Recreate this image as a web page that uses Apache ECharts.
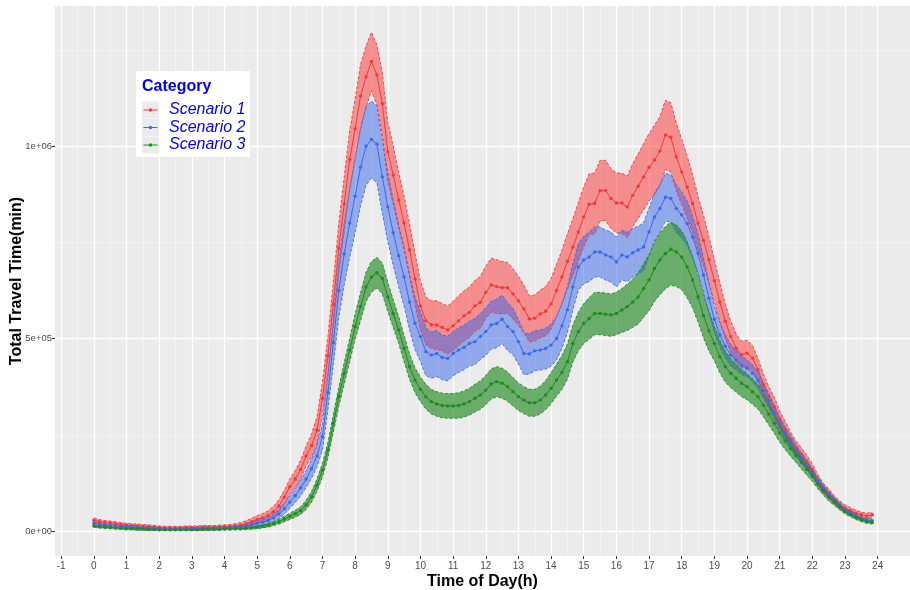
<!DOCTYPE html>
<html>
<head>
<meta charset="utf-8">
<title>Total Travel Time by Time of Day</title>
<script src="https://cdn.jsdelivr.net/npm/echarts@6/dist/echarts.min.js"></script>
<style>
  html, body { margin: 0; padding: 0; background: #ffffff; }
  #chart { width: 910px; height: 590px; }
</style>
</head>
<body>
<div id="chart"></div>
<script>
// Travel time sampled every 10 minutes (values in thousands of minutes).
const slotMinutes = 10;
const slotCount = 144;
const hours = [];
for (let i = 0; i < slotCount; i++) hours.push(i * slotMinutes / 60);

const xTickLabels = [-1,0,1,2,3,4,5,6,7,8,9,10,11,12,13,14,15,16,17,18,19,20,21,22,23,24];
const yTickValues = [0, 500, 1000];
const categories = ['Scenario 1', 'Scenario 2', 'Scenario 3'];

// Scenario 1
const s1Mean = [
  28,24,22,21,19,17, 15,14,13,12,11,10, 9,8,8,8,8,9, 9,9,10,10,10,11,
  11,12,13,15,19,24, 30,34,40,50,65,88, 115,135,160,195,222,262, 345,455,590,735,850,965,
  1045,1130,1180,1220,1185,1110, 985,925,860,800,730,655, 585,546,536,535,529,522, 533,546,559,568,585,594,
  620,639,635,632,632,616, 598,577,551,553,564,571, 590,625,660,700,737,777, 816,849,851,884,885,864,
  852,852,842,872,896,920, 945,964,987,1029,1023,972, 933,894,851,800,755,705, 650,595,545,505,475,458,
  462,449,419,380,349,323, 289,263,237,215,198,180, 159,133,111,98,81,68, 59,53,46,42,39,42
];
const s1Upper = [
  34,30,27,26,24,22, 20,19,18,17,16,15, 13,12,12,12,12,13, 13,13,14,14,14,15,
  16,17,19,22,27,33, 40,45,52,64,81,106, 135,157,184,221,252,297, 387,505,648,800,920,1040,
  1123,1212,1260,1296,1263,1190, 1063,1000,932,870,798,721, 649,608,598,598,591,584, 597,611,624,634,651,661,
  688,709,705,700,698,681, 662,639,611,613,626,635, 656,693,730,772,811,853, 894,928,930,963,963,942,
  930,930,922,954,980,1006, 1033,1054,1077,1119,1113,1060, 1018,974,926,870,820,765, 705,645,590,545,512,493,
  496,482,449,408,375,348, 312,285,257,234,216,197, 174,147,124,110,92,78, 68,61,54,49,46,49
];
const s1Lower = [
  22,18,17,16,14,12, 10,9,8,7,6,5, 5,4,4,4,4,5, 5,5,6,6,6,7,
  6,7,7,8,11,15, 20,23,28,36,49,70, 95,113,136,169,192,227, 303,405,532,670,780,890,
  967,1048,1100,1144,1107,1030, 907,850,788,730,662,589, 521,484,474,472,467,460, 469,481,494,502,519,527,
  552,569,565,564,566,551, 534,515,491,493,502,507, 524,557,590,628,663,701, 738,770,772,805,807,786,
  774,774,762,790,812,834, 857,874,897,939,933,884, 848,814,776,730,690,645, 595,545,500,465,438,423,
  428,416,389,352,323,298, 266,241,217,196,180,163, 144,119,98,86,70,58, 50,45,38,35,32,35
];

// Scenario 2
const s2Mean = [
  20,17,15,14,13,12, 11,10,9,8,8,7, 6,5,5,5,5,6, 6,6,7,7,7,8,
  8,9,10,11,13,16, 20,23,27,34,44,58, 75,92,112,135,162,195, 245,360,490,625,720,800,
  870,945,1000,1017,1005,920, 842,775,715,660,595,540, 505,466,457,461,451,448, 461,470,477,487,492,505,
  518,535,539,550,531,518, 492,461,460,468,470,474, 483,500,533,575,634,686, 704,712,725,725,717,712,
  699,717,712,723,730,738, 777,816,838,867,864,838, 821,799,764,721,665,605, 550,510,480,457,444,431,
  423,410,392,365,338,308, 280,255,233,210,190,172, 151,130,112,96,80,67, 55,46,39,33,29,27
];
const s2Upper = [
  24,21,19,18,17,16, 15,14,13,12,12,11, 9,8,8,8,8,9, 9,9,10,10,10,11,
  11,12,14,15,18,22, 27,31,36,44,56,72, 91,110,132,157,187,223, 280,405,548,695,800,888,
  965,1045,1102,1117,1105,1015, 932,860,795,736,667,608, 570,528,517,521,509,506, 519,528,535,545,552,565,
  580,597,602,613,593,578, 550,516,512,520,522,527, 538,556,591,635,694,746, 766,776,790,790,782,777,
  764,782,776,786,792,800, 839,878,900,929,926,900, 881,857,819,771,710,645, 585,542,510,485,470,455,
  445,432,413,385,357,326, 297,271,248,224,203,184, 162,140,121,104,87,74, 61,51,44,38,33,31
];
const s2Lower = [
  16,13,11,10,9,8, 7,6,5,4,4,3, 3,2,2,2,2,3, 3,3,4,4,4,5,
  5,6,6,7,8,10, 13,15,18,24,32,44, 59,74,92,113,137,167, 210,315,432,555,640,712,
  775,845,898,917,905,825, 752,690,635,584,523,472, 440,404,397,401,393,390, 403,412,419,429,432,445,
  456,473,476,487,469,458, 434,406,408,416,418,421, 428,444,475,515,574,626, 642,648,660,660,652,647,
  634,652,648,660,668,676, 715,754,776,805,802,776, 761,741,709,671,620,565, 515,478,450,429,418,407,
  401,388,371,345,319,290, 263,239,218,196,177,160, 140,120,103,88,73,60, 49,41,34,28,25,23
];

// Scenario 3
const s3Mean = [
  13,11,10,9,8,7, 6,6,5,5,4,4, 3,3,3,3,3,3, 3,3,4,4,4,4,
  5,5,6,6,7,8, 10,12,15,19,24,31, 38,45,53,68,89,119, 158,210,280,349,410,470,
  531,583,634,660,671,656, 608,565,522,474,427,392, 368,349,336,330,326,325, 325,326,330,336,345,353,
  366,382,388,384,375,362, 349,340,333,333,340,353, 371,392,412,440,487,518, 539,552,565,565,563,561,
  565,574,583,595,608,630, 652,682,704,721,732,725, 712,686,652,608,560,520, 487,453,427,410,397,384,
  375,362,349,327,304,280, 255,234,214,196,178,160, 143,122,105,88,76,63, 51,43,35,29,24,22
];
const s3Upper = [
  16,14,13,12,11,10, 9,9,8,8,7,7, 5,5,5,5,5,5, 5,5,6,6,6,6,
  7,7,9,9,10,11, 14,16,20,24,30,38, 46,54,63,80,103,135, 176,230,303,374,438,500,
  564,619,672,700,711,696, 646,601,557,508,460,424, 400,381,368,362,358,357, 357,359,364,371,381,390,
  404,421,427,423,413,399, 385,375,368,368,376,391, 411,434,456,486,535,568, 591,606,620,620,618,616,
  620,630,641,655,670,694, 718,750,774,791,802,795, 780,752,714,666,614,570, 532,495,467,448,433,419,
  409,395,381,357,332,306, 279,256,234,214,195,175, 157,134,116,98,85,71, 58,49,40,34,28,26
];
const s3Lower = [
  10,8,7,6,5,4, 3,3,2,2,1,1, 1,1,1,1,1,1, 1,1,2,2,2,2,
  3,3,3,3,4,5, 6,8,10,14,18,24, 30,36,43,56,75,103, 140,190,257,324,382,440,
  498,547,596,620,631,616, 570,529,487,440,394,360, 336,317,304,298,294,293, 293,293,296,301,309,316,
  328,343,349,345,337,325, 313,305,298,298,304,315, 331,350,368,394,439,468, 487,498,510,510,508,506,
  510,516,521,529,538,555, 572,597,614,629,639,635, 627,606,580,543,502,468, 442,411,387,372,361,349,
  341,329,317,297,276,254, 231,212,194,178,161,145, 129,110,94,78,67,55, 44,37,30,24,20,18
];

const palette = {
  line: ['#f03a3a', '#3c6ae6', '#1f8a1f'],
  fill: ['rgba(255,30,30,0.46)', 'rgba(50,100,235,0.49)', 'rgba(20,130,20,0.6)']
};
const legendBlue = '#0000ee';
const fontFamily = 'Arial, Liberation Sans, sans-serif';

const scenarios = [
  { name: categories[0], mean: s1Mean, lo: s1Lower, hi: s1Upper },
  { name: categories[1], mean: s2Mean, lo: s2Lower, hi: s2Upper },
  { name: categories[2], mean: s3Mean, lo: s3Lower, hi: s3Upper }
];

const pairs = arr => arr.map((v, i) => [hours[i], v]);

// Shaded range drawn as one polygon through the axis scales.
function bandRenderer(lo, hi, fill) {
  return function (params, api) {
    const pts = [];
    for (let i = 0; i < hours.length; i++) pts.push(api.coord([hours[i], hi[i]]));
    for (let i = hours.length - 1; i >= 0; i--) pts.push(api.coord([hours[i], lo[i]]));
    return { type: 'polygon', shape: { points: pts }, style: { fill: fill, stroke: null } };
  };
}

const series = [];
scenarios.forEach((s, k) => {
  series.push({
    type: 'custom', name: s.name + ' range', xAxisIndex: 0, yAxisIndex: 0,
    data: [[0, 0]], encode: { x: 0, y: 1 }, silent: true, z: 2,
    renderItem: bandRenderer(s.lo, s.hi, palette.fill[k])
  });
  ['lo', 'hi'].forEach(edge => {
    series.push({
      type: 'line', name: s.name + ' ' + edge, data: pairs(s[edge]),
      xAxisIndex: 0, yAxisIndex: 0, symbol: 'none', silent: true, z: 2,
      lineStyle: { color: palette.line[k], width: 0.9, type: [3, 2] }
    });
  });
});
scenarios.forEach((s, k) => {
  series.push({
    type: 'line', name: s.name, data: pairs(s.mean),
    xAxisIndex: 0, yAxisIndex: 0, z: 3,
    symbol: 'circle', symbolSize: 3.4, showAllSymbol: true,
    lineStyle: { color: palette.line[k], width: 1 },
    itemStyle: { color: palette.line[k] }
  });
});

const xMinor = xTickLabels.slice(0, -1).map(v => v + 0.5);
const yMinor = [250, 750, 1250];

function sci(v) {
  const parts = (v * 1000).toExponential(0).split('e');
  const sign = parts[1][0];
  let exp = parts[1].slice(1);
  if (exp.length < 2) exp = '0' + exp;
  return parts[0] + 'e' + sign + exp;
}

const gridBox = { left: 55, right: 0, top: 6, bottom: 34 };
const xRange = { min: -1.19, max: 24.99 };
const yRange = { min: -65, max: 1364 };

// Legend panel
const legendRows = [110, 127.5, 145];
const legendGraphics = [
  { type: 'rect', shape: { x: 136, y: 71, width: 114, height: 86 }, style: { fill: '#ffffff' }, z: 10 },
  { type: 'text', x: 142, y: 87, style: { text: 'Category', fill: legendBlue, font: 'bold 16px ' + fontFamily, textVerticalAlign: 'middle' }, z: 11 }
];
categories.forEach((c, k) => {
  const yc = legendRows[k];
  legendGraphics.push(
    { type: 'rect', shape: { x: 142, y: yc - 8.5, width: 17, height: 17 }, style: { fill: '#ebebeb' }, z: 11 },
    { type: 'line', shape: { x1: 143.5, y1: yc, x2: 157.5, y2: yc }, style: { stroke: palette.line[k], lineWidth: 1 }, z: 12 },
    { type: 'circle', shape: { cx: 150.5, cy: yc, r: 1.7 }, style: { fill: palette.line[k] }, z: 12 },
    { type: 'text', x: 169, y: yc, style: { text: c, fill: legendBlue, font: 'italic 16px ' + fontFamily, textVerticalAlign: 'middle' }, z: 12 }
  );
});

const chart = echarts.init(document.getElementById('chart'), null, { renderer: 'canvas' });
chart.setOption({
  animation: false,
  backgroundColor: '#ffffff',
  textStyle: { fontFamily: fontFamily },
  grid: Object.assign({ backgroundColor: '#ebebeb', show: true, borderWidth: 0, containLabel: false, outerBoundsMode: 'none' }, gridBox),
  xAxis: [
    {
      type: 'value', min: xRange.min, max: xRange.max, position: 'bottom',
      name: 'Time of Day(h)', nameLocation: 'middle', nameGap: 18, nameMoveOverlap: false,
      nameTextStyle: { fontSize: 16, fontWeight: 'bold', color: '#000000', fontFamily: fontFamily },
      axisLine: { show: false, onZero: false },
      axisTick: { show: true, inside: false, length: 3, lineStyle: { color: '#333333', width: 1 }, customValues: xTickLabels },
      axisLabel: { show: true, fontSize: 10, color: '#4d4d4d', margin: 5, customValues: xTickLabels, fontFamily: fontFamily },
      splitLine: { show: true, lineStyle: { color: '#ffffff', width: 1.3 } }
    },
    {
      type: 'value', min: xRange.min, max: xRange.max, position: 'bottom',
      axisLine: { show: false, onZero: false },
      axisTick: { show: false, customValues: xMinor },
      axisLabel: { show: false, customValues: xMinor },
      splitLine: { show: true, lineStyle: { color: '#f7f7f7', width: 0.7 } }
    }
  ],
  yAxis: [
    {
      type: 'value', min: yRange.min, max: yRange.max, position: 'left',
      name: 'Total Travel Time(min)', nameLocation: 'middle', nameGap: 30, nameRotate: 90, nameMoveOverlap: false,
      nameTextStyle: { fontSize: 16, fontWeight: 'bold', color: '#000000', fontFamily: fontFamily },
      axisLine: { show: false, onZero: false },
      axisTick: { show: true, inside: false, length: 3, lineStyle: { color: '#333333', width: 1 }, customValues: yTickValues },
      axisLabel: { show: true, fontSize: 9.5, color: '#4d4d4d', margin: 3, customValues: yTickValues, formatter: sci, fontFamily: fontFamily },
      splitLine: { show: true, lineStyle: { color: '#ffffff', width: 1.3 } }
    },
    {
      type: 'value', min: yRange.min, max: yRange.max, position: 'left',
      axisLine: { show: false, onZero: false },
      axisTick: { show: false, customValues: yMinor },
      axisLabel: { show: false, customValues: yMinor },
      splitLine: { show: true, lineStyle: { color: '#f7f7f7', width: 0.7 } }
    }
  ],
  graphic: legendGraphics,
  series: series
});
</script>
</body>
</html>
